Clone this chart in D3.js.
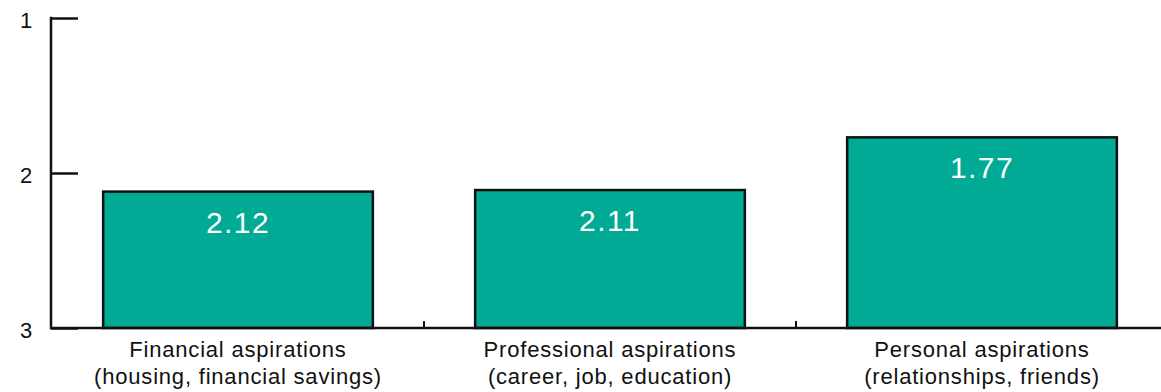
<!DOCTYPE html>
<html><head><meta charset="utf-8">
<script src="https://cdn.jsdelivr.net/npm/d3@7"></script>
<style>body{margin:0;background:#fff}svg{display:block}text{font-family:"Liberation Sans",Arial,sans-serif}</style>
</head><body><svg id="c" width="1161" height="392"></svg>
<script>
const categories = ["Financial aspirations", "Professional aspirations", "Personal aspirations"];
const subtitles = ["(housing, financial savings)", "(career, job, education)", "(relationships, friends)"];
const values = [2.12, 2.11, 1.77];
const yTicks = [1, 2, 3];

const svg = d3.select("#c");
const x = d3.scaleBand().domain(categories).range([52, 1168]).paddingInner(0.275).paddingOuter(0.1375);
const y = d3.scaleLinear().domain([1, 3]).range([18, 328]);
const band = d3.scaleBand().domain(categories).range([52, 1168]);

// bars
svg.selectAll("rect.bar").data(values).enter().append("rect")
  .attr("x", (d,i) => x(categories[i]))
  .attr("y", d => y(d))
  .attr("width", x.bandwidth())
  .attr("height", d => y(3) - y(d))
  .attr("fill", "#00AA94").attr("stroke", "#111").attr("stroke-width", 2.5);

svg.selectAll("text.val").data(values).enter().append("text")
  .attr("x", (d,i) => x(categories[i]) + x.bandwidth()/2)
  .attr("y", d => y(d) + 41)
  .attr("text-anchor", "middle").attr("fill", "#fff").attr("font-size", 30)
  .attr("letter-spacing", 1.4)
  .text(d => d.toFixed(2));

// y axis
const ya = svg.append("g").attr("transform", "translate(51,0)")
  .call(d3.axisRight(y).tickValues(yTicks).tickSize(27).tickFormat(""));
ya.select(".domain").remove();
ya.selectAll(".tick line").attr("stroke", "#111").attr("stroke-width", 2.5);
svg.append("line").attr("x1", 51).attr("x2", 51).attr("y1", y(1) - 1.25).attr("y2", y(3) + 1.25)
  .attr("stroke", "#111").attr("stroke-width", 2.5);
svg.selectAll("text.yl").data(yTicks).enter().append("text")
  .attr("x", 26).attr("y", d => y(d) + 10).attr("text-anchor", "middle")
  .attr("font-size", 22).attr("fill", "#111").text(d => d);

// x baseline
svg.append("line").attr("x1", 51).attr("x2", 1161).attr("y1", y(3)).attr("y2", y(3))
  .attr("stroke", "#111").attr("stroke-width", 2.5);
// separators
svg.selectAll("line.sep").data(categories.slice(1)).enter().append("line")
  .attr("x1", d => band(d)).attr("x2", d => band(d))
  .attr("y1", y(3) - 7).attr("y2", y(3))
  .attr("stroke", "#111").attr("stroke-width", 2);

// category labels
const lab = svg.selectAll("text.cat").data(categories).enter().append("text")
  .attr("text-anchor", "middle").attr("font-size", 22).attr("letter-spacing", 0.8).attr("fill", "#111");
lab.append("tspan").attr("x", d => x(d) + x.bandwidth()/2).attr("y", 357).text(d => d);
lab.append("tspan").attr("x", d => x(d) + x.bandwidth()/2).attr("y", 384).text((d,i) => subtitles[i]);
</script></body></html>
